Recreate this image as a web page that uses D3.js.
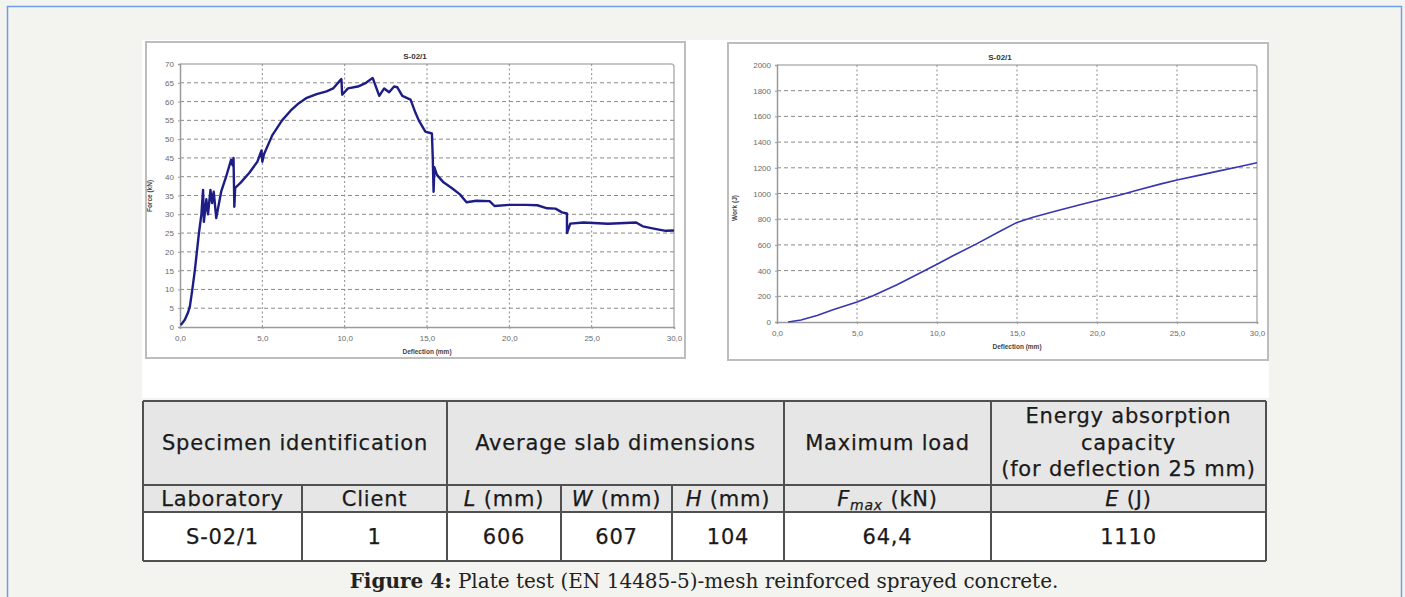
<!DOCTYPE html>
<html>
<head>
<meta charset="utf-8">
<script src="https://cdn.jsdelivr.net/npm/d3@7"></script>
<style>
  body { margin: 0; background: #f3f3ef; }
  svg { display: block; }
</style>
</head>
<body>
<svg width="1405" height="597"></svg>
<script>
// load-deflection curve (left chart)
const forceDeflection = [0.05,0.3,0.5,0.6,0.75,0.9,1.05,1.15,1.3,1.4,1.45,1.6,1.7,1.85,1.95,2.05,2.2,2.5,2.8,3.1,3.2,3.25,3.3,3.35,3.7,4.2,4.7,4.95,5.0,5.1,5.6,6.2,6.7,7.2,7.7,8.3,8.9,9.3,9.7,9.8,9.85,10.2,10.8,11.3,11.7,12.1,12.4,12.7,13.0,13.2,13.5,14.0,14.3,14.5,14.9,15.3,15.35,15.4,15.45,15.6,16.0,16.5,17.0,17.4,18.0,18.8,19.1,20.0,21.0,21.7,22.3,22.8,23.2,23.5,23.5,23.7,24.5,26.0,27.7,28.1,29.0,29.5,30.0];
const force = [0.5,2,4,5.5,10,15,21,25,30,36.5,28,34,30,36.5,33,36,29,36,40,44.5,43,45,32,37,38.5,41,44,47,44,46,51,55,57.5,59.5,61,62,62.7,63.5,65.5,66,61.8,63.5,64,65,66.3,61.5,63.5,62.5,64,63.8,61.5,60.5,57,55,52,51.5,45,36,42.5,40.5,38.5,37,35.3,33.2,33.6,33.5,32.2,32.5,32.5,32.4,31.6,31.5,30.5,30.2,25,27.5,27.8,27.5,27.8,26.8,26,25.6,25.7];

// work-deflection curve (right chart)
const workDeflection = [0.7,1.5,2.5,3.5,5.0,6.0,7.5,9.0,10.0,11.0,12.5,14.0,15.0,16.0,17.5,19.0,20.0,21.5,22.5,24.0,25.0,26.5,27.5,29.0,30.0];
const work = [0,15,50,95,155,205,290,385,450,515,610,710,775,815,865,915,945,990,1025,1075,1105,1145,1172,1212,1240];

const xTicks = [0,5,10,15,20,25,30];
const forceTicks = [0,5,10,15,20,25,30,35,40,45,50,55,60,65,70];
const workTicks = [0,200,400,600,800,1000,1200,1400,1600,1800,2000];
const chartTitle = "S-02/1";

// table contents
const groupHeads = ["Specimen identification", "Average slab dimensions", "Maximum load"];
const energyHead = ["Energy absorption", "capacity", "(for deflection 25 mm)"];
const subHeads = ["Laboratory", "Client", "L", "W", "H", "F", "E"];
const subUnits = ["", "", " (mm)", " (mm)", " (mm)", " (kN)", " (J)"];
const rowValues = ["S-02/1", "1", "606", "607", "104", "64,4", "1110"];

const svg = d3.select("svg");
const comma = d => d3.format(".1f")(d).replace(".", ",");

// page frame
svg.append("path")
  .attr("d", "M7.5,597 V6.5 H1401.5 V597")
  .attr("fill", "none")
  .attr("stroke", "#6f9fe0")
  .attr("stroke-width", 1.5);
svg.append("rect")
  .attr("x", 142).attr("y", 40).attr("width", 1127).attr("height", 358)
  .attr("fill", "#fff");

function drawChart(cfg) {
  const g = svg.append("g");
  g.append("rect")
    .attr("x", cfg.frame[0]).attr("y", cfg.frame[1])
    .attr("width", cfg.frame[2]).attr("height", cfg.frame[3])
    .attr("fill", "#fff").attr("stroke", "#bdbdbd").attr("stroke-width", 2);

  const x = d3.scaleLinear().domain([0, 30]).range([cfg.x0, cfg.x1]);
  const y = d3.scaleLinear().domain([0, cfg.yMax]).range([cfg.y1, cfg.y0]);

  // plot border (top/right)
  g.append("path")
    .attr("d", `M${cfg.x0},${cfg.y0} H${cfg.x1 - 3} Q${cfg.x1},${cfg.y0} ${cfg.x1},${cfg.y0 + 3} V${cfg.y1}`)
    .attr("fill", "none").attr("stroke", "#b4b4b4").attr("stroke-width", 1.5);

  // grid
  g.append("g").selectAll("line")
    .data(cfg.yTicks.filter(d => d > 0 && d < cfg.yMax))
    .join("line")
    .attr("x1", cfg.x0).attr("x2", cfg.x1)
    .attr("y1", d => y(d)).attr("y2", d => y(d))
    .attr("stroke", "#8a8a8a").attr("stroke-width", 1)
    .attr("stroke-dasharray", "4,3");
  g.append("g").selectAll("line")
    .data(xTicks.filter(d => d > 0 && d < 30))
    .join("line")
    .attr("x1", d => x(d)).attr("x2", d => x(d))
    .attr("y1", cfg.y0).attr("y2", cfg.y1)
    .attr("stroke", "#8a8a8a").attr("stroke-width", 1)
    .attr("stroke-dasharray", "2,2.5");

  // axes
  const gx = g.append("g")
    .attr("transform", `translate(0,${cfg.y1})`)
    .call(d3.axisBottom(x).tickValues(xTicks).tickFormat(comma).tickSize(2).tickPadding(6));
  const gy = g.append("g")
    .attr("transform", `translate(${cfg.x0},0)`)
    .call(d3.axisLeft(y).tickValues(cfg.yTicks).tickFormat(d3.format("d")).tickSize(2).tickPadding(4));
  [gx, gy].forEach(a => {
    a.select(".domain").attr("stroke", "#9a9a9a").attr("stroke-width", 1.5);
    a.selectAll(".tick line").attr("stroke", "#9a9a9a");
    a.selectAll("text")
      .attr("fill", "#6a6a6a")
      .style("font", "8px 'Liberation Sans', Arial, sans-serif");
  });

  // titles
  g.append("text")
    .attr("x", cfg.titleX).attr("y", cfg.frame[1] + 17)
    .attr("text-anchor", "middle")
    .style("font", "bold 8px 'Liberation Sans', Arial, sans-serif")
    .attr("fill", "#333").text(chartTitle);
  g.append("text")
    .attr("x", (cfg.x0 + cfg.x1) / 2).attr("y", cfg.y1 + 27)
    .attr("text-anchor", "middle")
    .style("font", "bold 6.5px 'Liberation Sans', Arial, sans-serif")
    .attr("fill", "#444").text("Deflection (mm)");
  g.append("text")
    .attr("transform", `translate(${cfg.yLabelX},${cfg.yLabelY}) rotate(-90)`)
    .attr("text-anchor", "middle")
    .style("font", "bold 6.5px 'Liberation Sans', Arial, sans-serif")
    .attr("fill", "#444").text(cfg.yLabel);

  const line = d3.line().x(d => x(d[0])).y(d => y(d[1]));
  g.append("path")
    .datum(d3.zip(cfg.xs, cfg.ys))
    .attr("d", line)
    .attr("fill", "none")
    .attr("stroke", cfg.color)
    .attr("stroke-width", cfg.width)
    .attr("stroke-linejoin", "round");
}

drawChart({
  frame: [146, 42, 539, 316], x0: 180, x1: 674, y0: 64, y1: 327, yMax: 70,
  yTicks: forceTicks, xs: forceDeflection, ys: force, yLabel: "Force (kN)",
  yLabelX: 152, yLabelY: 196, titleX: 415, color: "#1d1d85", width: 2.4
});
drawChart({
  frame: [728, 43, 540, 317], x0: 777, x1: 1257, y0: 65, y1: 322, yMax: 2000,
  yTicks: workTicks, xs: workDeflection, ys: work, yLabel: "Work (J)",
  yLabelX: 737, yLabelY: 208, titleX: 1000, color: "#3636b0", width: 1.6
});

// table
const cols = [143, 302, 447, 561, 672, 784, 991, 1266];
const rows = [401, 485, 512, 561];
const t = svg.append("g");
const font = "21px 'DejaVu Sans', Verdana, sans-serif";
t.append("rect").attr("x", cols[0]).attr("y", rows[0])
  .attr("width", cols[7] - cols[0]).attr("height", rows[2] - rows[0]).attr("fill", "#e6e6e6");
t.append("rect").attr("x", cols[0]).attr("y", rows[2])
  .attr("width", cols[7] - cols[0]).attr("height", rows[3] - rows[2]).attr("fill", "#fff");

const lineStyle = s => s.attr("stroke", "#505050").attr("stroke-width", 2);
[rows[0], rows[1], rows[2], rows[3]].forEach(yv =>
  t.append("line").attr("x1", cols[0]).attr("x2", cols[7]).attr("y1", yv).attr("y2", yv).call(lineStyle));
[cols[0], cols[2], cols[5], cols[6], cols[7]].forEach(xv =>
  t.append("line").attr("x1", xv).attr("x2", xv).attr("y1", rows[0]).attr("y2", rows[3]).call(lineStyle));
[cols[1], cols[3], cols[4]].forEach(xv =>
  t.append("line").attr("x1", xv).attr("x2", xv).attr("y1", rows[1]).attr("y2", rows[3]).call(lineStyle));

const cellText = (x, y) => t.append("text")
  .attr("x", x).attr("y", y)
  .attr("text-anchor", "middle")
  .style("font", font).style("letter-spacing", "0.8px")
  .attr("fill", "#1a1a1a")
  .attr("stroke", "#1a1a1a").attr("stroke-width", 0.25);

const spans = [[0, 2], [2, 5], [5, 6]];
groupHeads.forEach((h, i) => {
  cellText((cols[spans[i][0]] + cols[spans[i][1]]) / 2, 450).text(h);
});
energyHead.forEach((h, i) => {
  cellText((cols[6] + cols[7]) / 2, 423 + i * 26.5).text(h);
});
subHeads.forEach((h, i) => {
  const tx = cellText((cols[i] + cols[i + 1]) / 2, 506);
  const italic = i >= 2;
  tx.append("tspan").style("font-style", italic ? "italic" : "normal").text(h);
  if (h === "F") tx.append("tspan").attr("dy", 4).style("font-style", "italic").style("font-size", "14px").text("max");
  tx.append("tspan").attr("dy", h === "F" ? -4 : 0).text(subUnits[i]);
});
rowValues.forEach((v, i) => {
  cellText((cols[i] + cols[i + 1]) / 2, 544).text(v);
});

// caption
const cap = svg.append("text")
  .attr("x", 704).attr("y", 588)
  .attr("text-anchor", "middle")
  .style("font", "20px 'DejaVu Serif', serif")
  .attr("fill", "#222");
cap.append("tspan").style("font-weight", "bold").text("Figure 4:");
cap.append("tspan").text(" Plate test (EN 14485-5)-mesh reinforced sprayed concrete.");
</script>
</body>
</html>
